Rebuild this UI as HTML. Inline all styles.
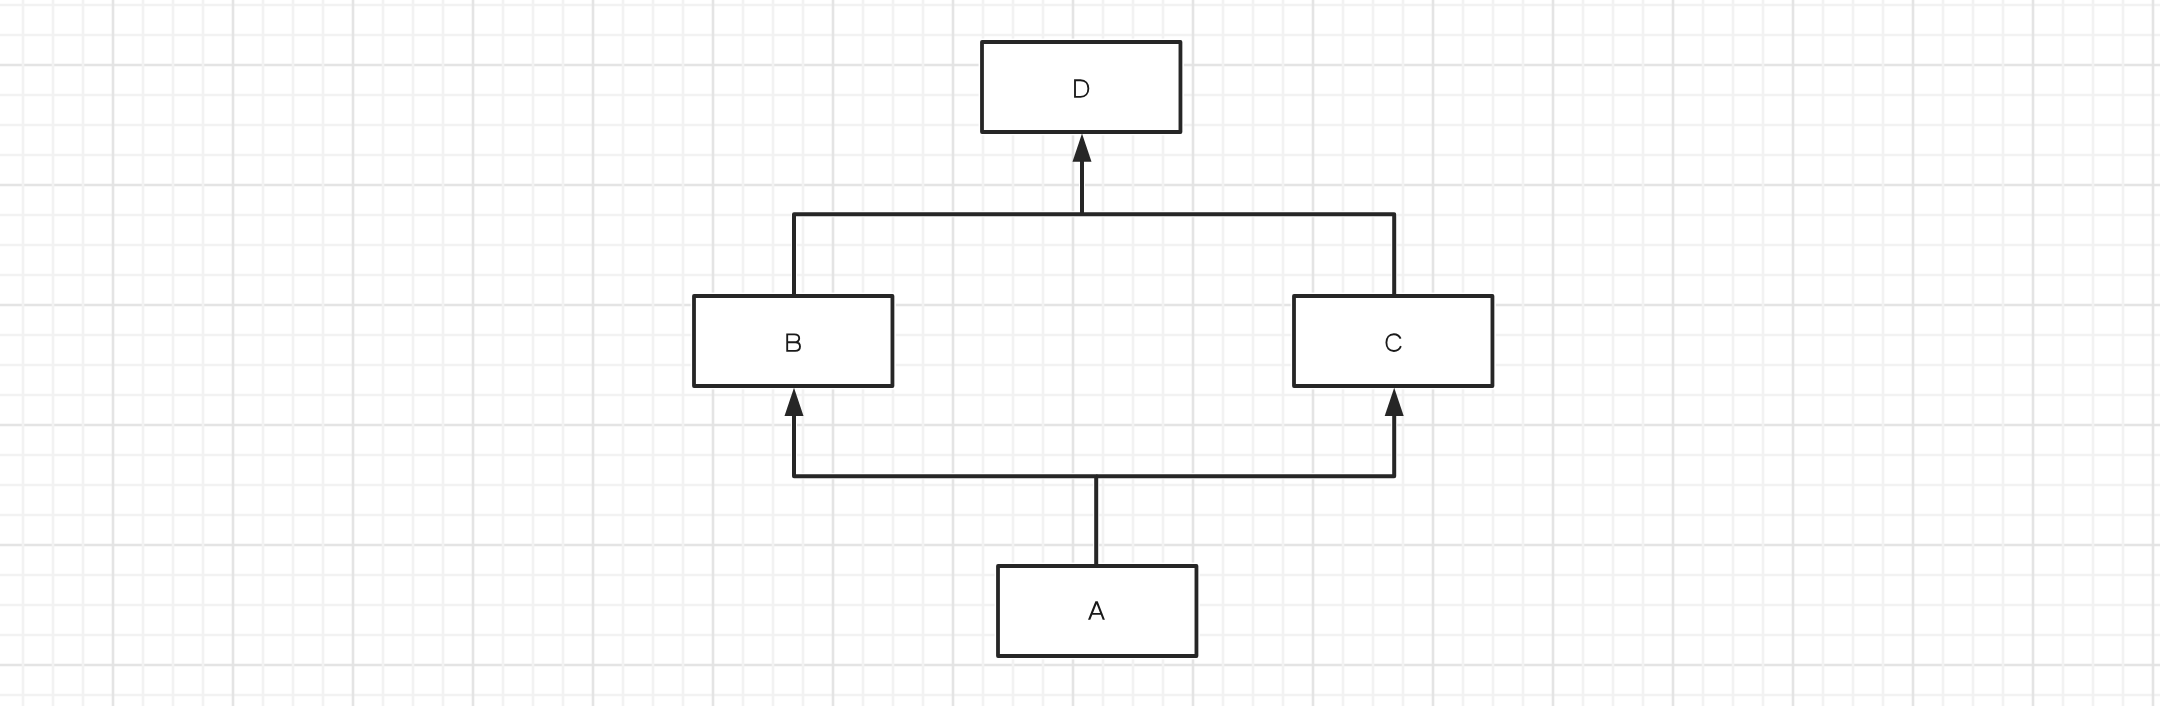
<!DOCTYPE html>
<html><head><meta charset="utf-8"><style>
html,body{margin:0;padding:0;background:#fff;width:2160px;height:706px;overflow:hidden}
svg{display:block}
</style></head><body>
<svg width="2160" height="706" viewBox="0 0 2160 706">
<rect width="2160" height="706" fill="#fff"/>
<rect x="0" y="3.75" width="2160" height="2.5" fill="#f2f2f2"/>
<rect x="0" y="33.75" width="2160" height="2.5" fill="#f2f2f2"/>
<rect x="0" y="63.75" width="2160" height="2.5" fill="#e4e4e4"/>
<rect x="0" y="93.75" width="2160" height="2.5" fill="#f2f2f2"/>
<rect x="0" y="123.75" width="2160" height="2.5" fill="#f2f2f2"/>
<rect x="0" y="153.75" width="2160" height="2.5" fill="#f2f2f2"/>
<rect x="0" y="183.75" width="2160" height="2.5" fill="#e4e4e4"/>
<rect x="0" y="213.75" width="2160" height="2.5" fill="#f2f2f2"/>
<rect x="0" y="243.75" width="2160" height="2.5" fill="#f2f2f2"/>
<rect x="0" y="273.75" width="2160" height="2.5" fill="#f2f2f2"/>
<rect x="0" y="303.75" width="2160" height="2.5" fill="#e4e4e4"/>
<rect x="0" y="333.75" width="2160" height="2.5" fill="#f2f2f2"/>
<rect x="0" y="363.75" width="2160" height="2.5" fill="#f2f2f2"/>
<rect x="0" y="393.75" width="2160" height="2.5" fill="#f2f2f2"/>
<rect x="0" y="423.75" width="2160" height="2.5" fill="#e4e4e4"/>
<rect x="0" y="453.75" width="2160" height="2.5" fill="#f2f2f2"/>
<rect x="0" y="483.75" width="2160" height="2.5" fill="#f2f2f2"/>
<rect x="0" y="513.75" width="2160" height="2.5" fill="#f2f2f2"/>
<rect x="0" y="543.75" width="2160" height="2.5" fill="#e4e4e4"/>
<rect x="0" y="573.75" width="2160" height="2.5" fill="#f2f2f2"/>
<rect x="0" y="603.75" width="2160" height="2.5" fill="#f2f2f2"/>
<rect x="0" y="633.75" width="2160" height="2.5" fill="#f2f2f2"/>
<rect x="0" y="663.75" width="2160" height="2.5" fill="#e4e4e4"/>
<rect x="0" y="693.75" width="2160" height="2.5" fill="#f2f2f2"/>
<rect x="21.7" y="0" width="2.6" height="706" fill="#f2f2f2"/>
<rect x="51.7" y="0" width="2.6" height="706" fill="#f2f2f2"/>
<rect x="81.7" y="0" width="2.6" height="706" fill="#f2f2f2"/>
<rect x="111.7" y="0" width="2.6" height="706" fill="#e4e4e4"/>
<rect x="141.7" y="0" width="2.6" height="706" fill="#f2f2f2"/>
<rect x="171.7" y="0" width="2.6" height="706" fill="#f2f2f2"/>
<rect x="201.7" y="0" width="2.6" height="706" fill="#f2f2f2"/>
<rect x="231.7" y="0" width="2.6" height="706" fill="#e4e4e4"/>
<rect x="261.7" y="0" width="2.6" height="706" fill="#f2f2f2"/>
<rect x="291.7" y="0" width="2.6" height="706" fill="#f2f2f2"/>
<rect x="321.7" y="0" width="2.6" height="706" fill="#f2f2f2"/>
<rect x="351.7" y="0" width="2.6" height="706" fill="#e4e4e4"/>
<rect x="381.7" y="0" width="2.6" height="706" fill="#f2f2f2"/>
<rect x="411.7" y="0" width="2.6" height="706" fill="#f2f2f2"/>
<rect x="441.7" y="0" width="2.6" height="706" fill="#f2f2f2"/>
<rect x="471.7" y="0" width="2.6" height="706" fill="#e4e4e4"/>
<rect x="501.7" y="0" width="2.6" height="706" fill="#f2f2f2"/>
<rect x="531.7" y="0" width="2.6" height="706" fill="#f2f2f2"/>
<rect x="561.7" y="0" width="2.6" height="706" fill="#f2f2f2"/>
<rect x="591.7" y="0" width="2.6" height="706" fill="#e4e4e4"/>
<rect x="621.7" y="0" width="2.6" height="706" fill="#f2f2f2"/>
<rect x="651.7" y="0" width="2.6" height="706" fill="#f2f2f2"/>
<rect x="681.7" y="0" width="2.6" height="706" fill="#f2f2f2"/>
<rect x="711.7" y="0" width="2.6" height="706" fill="#e4e4e4"/>
<rect x="741.7" y="0" width="2.6" height="706" fill="#f2f2f2"/>
<rect x="771.7" y="0" width="2.6" height="706" fill="#f2f2f2"/>
<rect x="801.7" y="0" width="2.6" height="706" fill="#f2f2f2"/>
<rect x="831.7" y="0" width="2.6" height="706" fill="#e4e4e4"/>
<rect x="861.7" y="0" width="2.6" height="706" fill="#f2f2f2"/>
<rect x="891.7" y="0" width="2.6" height="706" fill="#f2f2f2"/>
<rect x="921.7" y="0" width="2.6" height="706" fill="#f2f2f2"/>
<rect x="951.7" y="0" width="2.6" height="706" fill="#e4e4e4"/>
<rect x="981.7" y="0" width="2.6" height="706" fill="#f2f2f2"/>
<rect x="1011.7" y="0" width="2.6" height="706" fill="#f2f2f2"/>
<rect x="1041.7" y="0" width="2.6" height="706" fill="#f2f2f2"/>
<rect x="1071.7" y="0" width="2.6" height="706" fill="#e4e4e4"/>
<rect x="1101.7" y="0" width="2.6" height="706" fill="#f2f2f2"/>
<rect x="1131.7" y="0" width="2.6" height="706" fill="#f2f2f2"/>
<rect x="1161.7" y="0" width="2.6" height="706" fill="#f2f2f2"/>
<rect x="1191.7" y="0" width="2.6" height="706" fill="#e4e4e4"/>
<rect x="1221.7" y="0" width="2.6" height="706" fill="#f2f2f2"/>
<rect x="1251.7" y="0" width="2.6" height="706" fill="#f2f2f2"/>
<rect x="1281.7" y="0" width="2.6" height="706" fill="#f2f2f2"/>
<rect x="1311.7" y="0" width="2.6" height="706" fill="#e4e4e4"/>
<rect x="1341.7" y="0" width="2.6" height="706" fill="#f2f2f2"/>
<rect x="1371.7" y="0" width="2.6" height="706" fill="#f2f2f2"/>
<rect x="1401.7" y="0" width="2.6" height="706" fill="#f2f2f2"/>
<rect x="1431.7" y="0" width="2.6" height="706" fill="#e4e4e4"/>
<rect x="1461.7" y="0" width="2.6" height="706" fill="#f2f2f2"/>
<rect x="1491.7" y="0" width="2.6" height="706" fill="#f2f2f2"/>
<rect x="1521.7" y="0" width="2.6" height="706" fill="#f2f2f2"/>
<rect x="1551.7" y="0" width="2.6" height="706" fill="#e4e4e4"/>
<rect x="1581.7" y="0" width="2.6" height="706" fill="#f2f2f2"/>
<rect x="1611.7" y="0" width="2.6" height="706" fill="#f2f2f2"/>
<rect x="1641.7" y="0" width="2.6" height="706" fill="#f2f2f2"/>
<rect x="1671.7" y="0" width="2.6" height="706" fill="#e4e4e4"/>
<rect x="1701.7" y="0" width="2.6" height="706" fill="#f2f2f2"/>
<rect x="1731.7" y="0" width="2.6" height="706" fill="#f2f2f2"/>
<rect x="1761.7" y="0" width="2.6" height="706" fill="#f2f2f2"/>
<rect x="1791.7" y="0" width="2.6" height="706" fill="#e4e4e4"/>
<rect x="1821.7" y="0" width="2.6" height="706" fill="#f2f2f2"/>
<rect x="1851.7" y="0" width="2.6" height="706" fill="#f2f2f2"/>
<rect x="1881.7" y="0" width="2.6" height="706" fill="#f2f2f2"/>
<rect x="1911.7" y="0" width="2.6" height="706" fill="#e4e4e4"/>
<rect x="1941.7" y="0" width="2.6" height="706" fill="#f2f2f2"/>
<rect x="1971.7" y="0" width="2.6" height="706" fill="#f2f2f2"/>
<rect x="2001.7" y="0" width="2.6" height="706" fill="#f2f2f2"/>
<rect x="2031.7" y="0" width="2.6" height="706" fill="#e4e4e4"/>
<rect x="2061.7" y="0" width="2.6" height="706" fill="#f2f2f2"/>
<rect x="2091.7" y="0" width="2.6" height="706" fill="#f2f2f2"/>
<rect x="2121.7" y="0" width="2.6" height="706" fill="#f2f2f2"/>
<rect x="2151.7" y="0" width="2.6" height="706" fill="#e4e4e4"/>
<rect x="982" y="42" width="198.45" height="90" fill="#fff" stroke="#fff" stroke-width="6.8"/><rect x="694" y="296" width="198.45" height="90" fill="#fff" stroke="#fff" stroke-width="6.8"/><rect x="1294" y="296" width="198.45" height="90" fill="#fff" stroke="#fff" stroke-width="6.8"/><rect x="998" y="566" width="198.45" height="90" fill="#fff" stroke="#fff" stroke-width="6.8"/>
<path d="M794 296 V214.15 H1394.2 V296" fill="none" stroke="#fff" stroke-width="6" stroke-linejoin="round"/><path d="M1082 214 V161" fill="none" stroke="#fff" stroke-width="6" stroke-linejoin="round"/><path d="M1096.2 566 V476.15 H794 V415" fill="none" stroke="#fff" stroke-width="6" stroke-linejoin="round"/><path d="M1096.2 476.15 H1394.2 V415" fill="none" stroke="#fff" stroke-width="6" stroke-linejoin="round"/>
<path d="M794 296 V214.15 H1394.2 V296" fill="none" stroke="#262626" stroke-width="4.0" stroke-linejoin="round"/><path d="M1082 214 V161" fill="none" stroke="#262626" stroke-width="4.0" stroke-linejoin="round"/><path d="M1096.2 566 V476.15 H794 V415" fill="none" stroke="#262626" stroke-width="4.0" stroke-linejoin="round"/><path d="M1096.2 476.15 H1394.2 V415" fill="none" stroke="#262626" stroke-width="4.0" stroke-linejoin="round"/>
<path d="M1082 133.4 L1091.5 161.70000000000002 L1072.5 161.70000000000002 Z" fill="#262626"/><path d="M794 387.8 L803.5 416.1 L784.5 416.1 Z" fill="#262626"/><path d="M1394.2 387.8 L1403.7 416.1 L1384.7 416.1 Z" fill="#262626"/>
<rect x="982" y="42" width="198.45" height="90" fill="#fff" stroke="#262626" stroke-width="3.8" stroke-linejoin="round"/><rect x="694" y="296" width="198.45" height="90" fill="#fff" stroke="#262626" stroke-width="3.8" stroke-linejoin="round"/><rect x="1294" y="296" width="198.45" height="90" fill="#fff" stroke="#262626" stroke-width="3.8" stroke-linejoin="round"/><rect x="998" y="566" width="198.45" height="90" fill="#fff" stroke="#262626" stroke-width="3.8" stroke-linejoin="round"/>
<path d="M1075 80.2 H1080.5 C1085.6 80.2 1088.35 83.6 1088.35 88.5 C1088.35 93.4 1085.6 96.8 1080.5 96.8 H1075 Z" fill="none" stroke="#1a1a1a" stroke-width="1.85" stroke-linejoin="miter"/><path d="M787.2 342.2 H794.2 C797.6 342.2 799.2 340.5 799.2 338.2 C799.2 336.0 797.6 334.3 794.2 334.3 H787.2 V350.8 H795.2 C798.4 350.8 800.0 349.0 800.0 346.5 C800.0 344.2 798.4 342.2 795.2 342.2 H794.2" fill="none" stroke="#1a1a1a" stroke-width="1.85" stroke-linejoin="miter"/><path d="M1400.6 338.7 C1399.3 335.8 1396.8 334.2 1393.9 334.2 C1389.2 334.2 1386.4 337.8 1386.4 342.6 C1386.4 347.4 1389.2 351 1393.9 351 C1397.2 351 1399.6 349.2 1400.9 346.1" fill="none" stroke="#1a1a1a" stroke-width="1.85"/><path fill-rule="evenodd" d="M1088.0 619.75 L1095.4 601.2 H1097.7 L1104.9 619.75 H1102.7 L1100.8 614.8 H1092.3 L1090.3 619.75 Z M1093.0 612.96 L1096.59 604.0 L1100.07 612.96 Z" fill="#1a1a1a"/>
</svg>
</body></html>
